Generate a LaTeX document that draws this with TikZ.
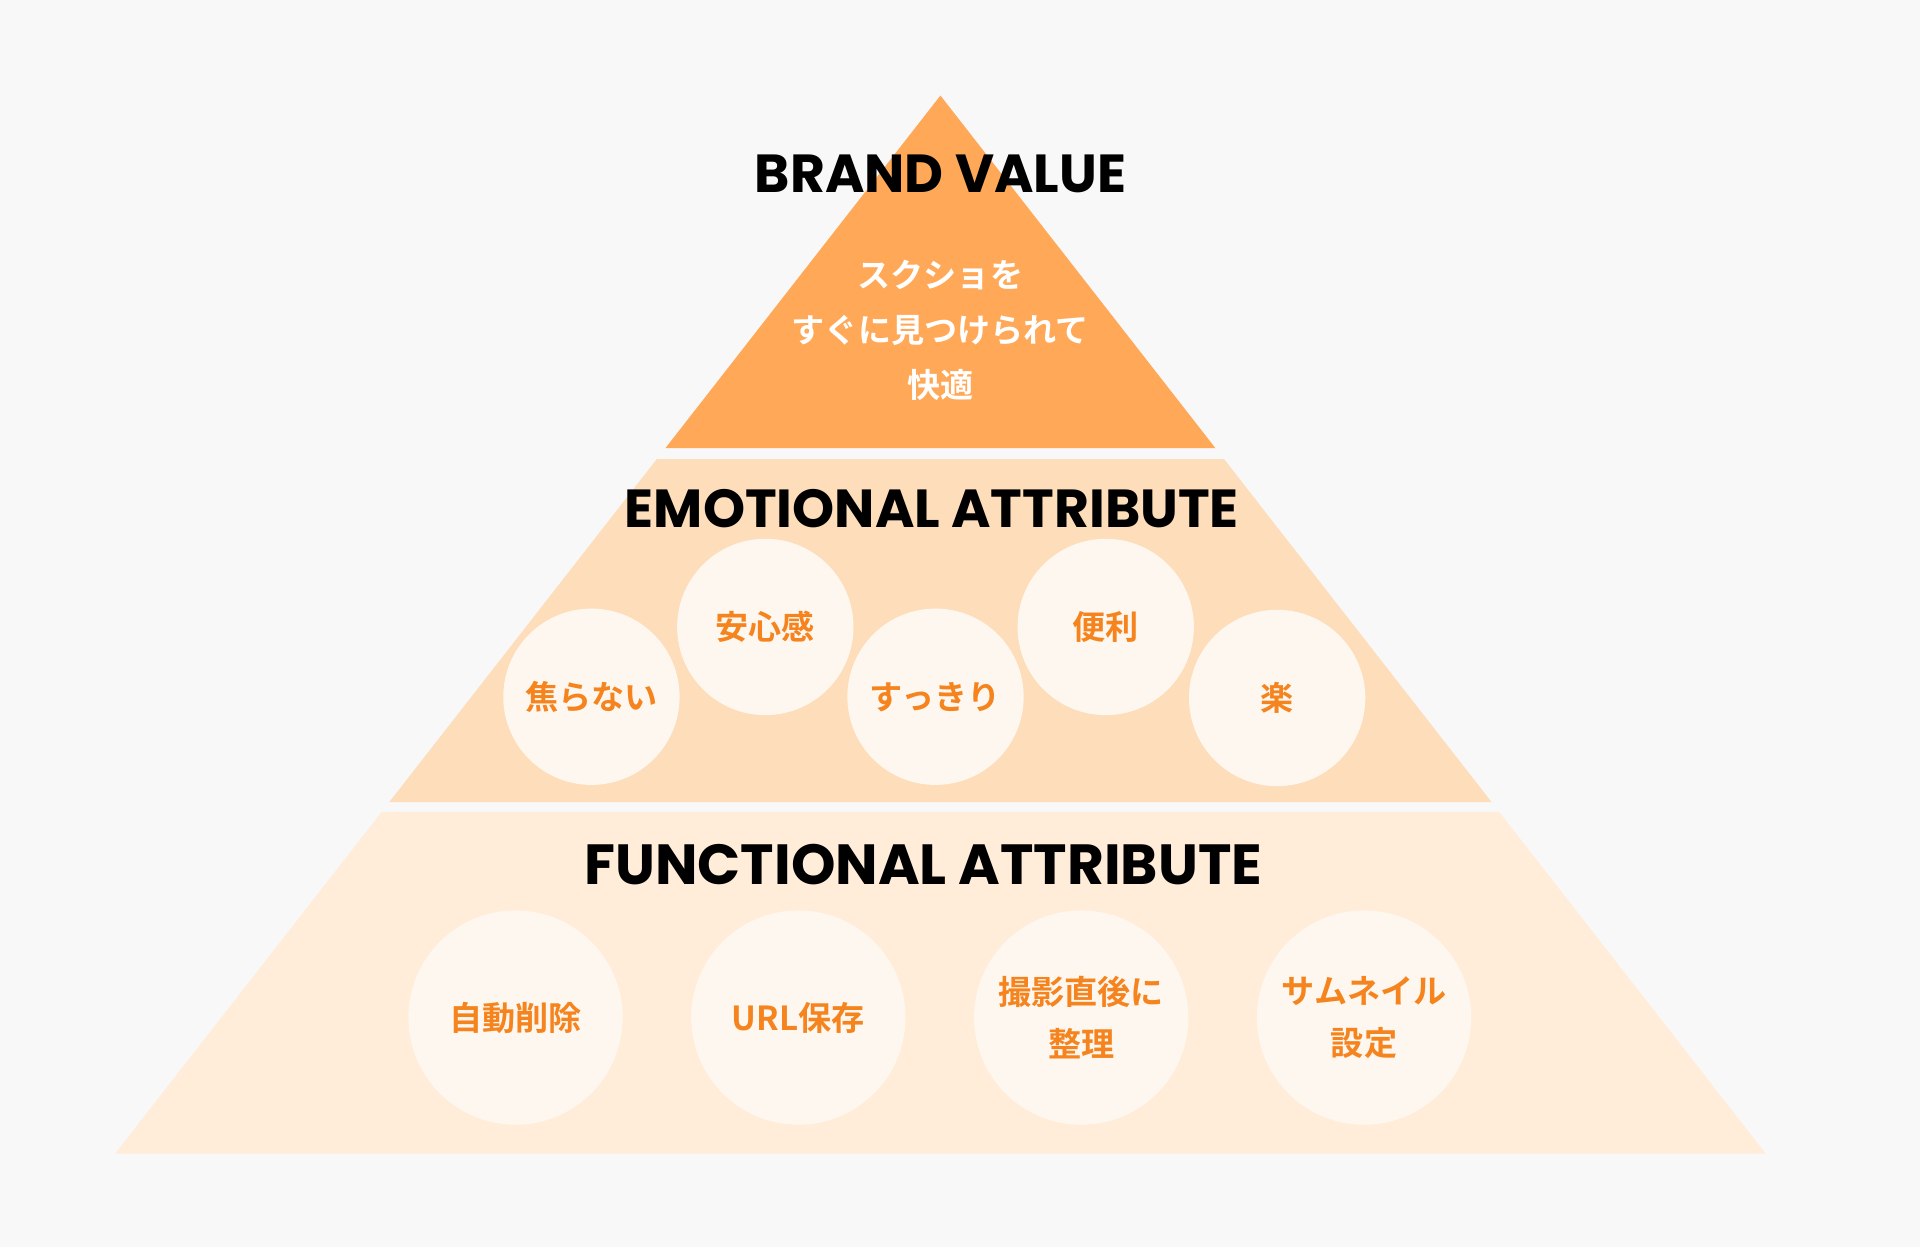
\documentclass[tikz,border=0pt]{standalone}
\usepackage{fontspec}
\setmainfont{Poppins}[BoldFont={* Bold}]
\newfontfamily\jpfont{Noto Sans CJK JP}[BoldFont={* Bold}]
\usetikzlibrary{calc}
\definecolor{bgcol}{HTML}{F8F8F8}
\definecolor{topcol}{HTML}{FFA857}
\definecolor{midcol}{HTML}{FDDDBA}
\definecolor{lowcol}{HTML}{FFEDDA}
\definecolor{bubcol}{HTML}{FEF7EF}
\definecolor{txtcol}{HTML}{F5841E}
\tikzset{
	heading/.style={font=\fontsize{12.45}{15}\selectfont\bfseries, text=black},
	bigheading/.style={heading, font=\fontsize{13.15}{15}\selectfont\bfseries},
	bubble/.style={circle, fill=bubcol, inner sep=0pt, text=txtcol, align=center,
		font=\jpfont\bfseries\fontsize{7.7}{12}\selectfont},
	smallbub/.style={bubble, minimum size=1.44cm},
	bigbub/.style={bubble, minimum size=1.75cm}
}

\begin{document}
\begin{tikzpicture}[y=-1cm]
		%%%%% START %%%%%
		
		\fill[bgcol] (0, 0) rectangle (15.68, 10.18);
		\useasboundingbox (0, 0) rectangle (15.68, 10.18);
		
		% pyramid
		\fill[topcol] (7.68, 0.78) -- (9.926, 3.66) -- (5.434, 3.66) -- cycle;
		\fill[midcol] (5.363, 3.75) -- (9.997, 3.75) -- (12.181, 6.55) -- (3.179, 6.55) -- cycle;
		\fill[lowcol] (3.117, 6.63) -- (12.243, 6.63) -- (14.419, 9.42) -- (0.941, 9.42) -- cycle;
		
		\node[heading] (brand) at (7.68, 1.42) {BRAND VALUE};
		\node[text=white, align=center, font=\jpfont\bfseries\fontsize{7.7}{12.8}\selectfont] (value) at (7.68, 2.70) {スクショを\\すぐに見つけられて\\快適};
		
		\node[heading] (emotional) at (7.61, 4.15) {EMOTIONAL ATTRIBUTE};
		\node[smallbub] (aseranai) at (4.83, 5.69) {焦らない};
		\node[smallbub] (anshin) at (6.25, 5.12) {安心感};
		\node[smallbub] (sukkiri) at (7.64, 5.69) {すっきり};
		\node[smallbub] (benri) at (9.03, 5.12) {便利};
		\node[smallbub] (raku) at (10.43, 5.70) {楽};
		
		\node[bigheading] (functional) at (7.54, 7.06) {FUNCTIONAL ATTRIBUTE};
		\node[bigbub] (sakujo) at (4.21, 8.31) {自動削除};
		\node[bigbub] (urlhozon) at (6.52, 8.31) {URL保存};
		\node[bigbub] (seiri) at (8.83, 8.31) {撮影直後に\\整理};
		\node[bigbub] (thumb) at (11.14, 8.31) {サムネイル\\設定};
		
		%%%%% END %%%%%
	\end{tikzpicture}
\end{document}
